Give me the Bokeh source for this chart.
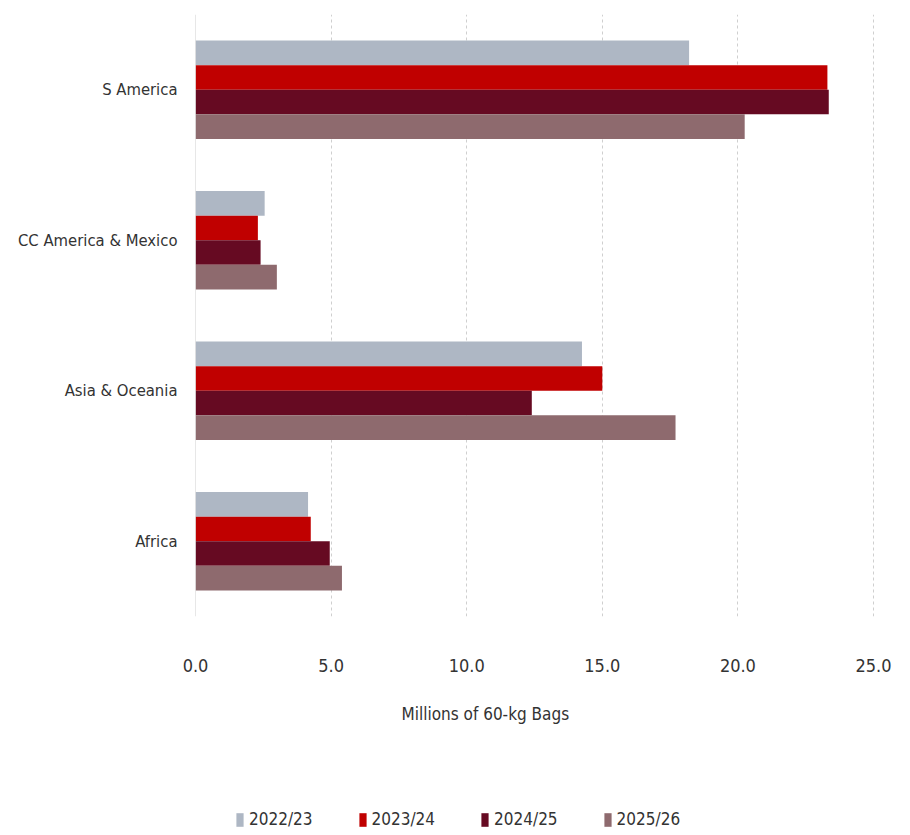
from bokeh.plotting import figure
from bokeh.layouts import column
from bokeh.models import (FactorRange, Range1d, FixedTicker, NumeralTickFormatter,
                          Legend, LegendItem, Title, Span, ColumnDataSource)
from bokeh.transform import dodge
from bokeh.embed import file_html
from bokeh.resources import INLINE

# ---- data ----
regions = ["S America", "CC America & Mexico", "Asia & Oceania", "Africa"]
seasons = ["2022/23", "2023/24", "2024/25", "2025/26"]
v_2022_23 = [18.2, 2.55, 14.25, 4.15]
v_2023_24 = [23.3, 2.3, 15.0, 4.25]
v_2024_25 = [23.35, 2.4, 12.4, 4.95]
v_2025_26 = [20.25, 3.0, 17.7, 5.4]
x_ticks = [0, 5, 10, 15, 20, 25]
x_title = "Millions of 60-kg Bags"

colors = ["#AEB7C4", "#C00000", "#660A22", "#8E6A6E"]
FONT = "DejaVu Sans Condensed, Roboto"
TXT = "#333333"

src = ColumnDataSource(dict(region=regions, s0=v_2022_23, s1=v_2023_24,
                            s2=v_2024_25, s3=v_2025_26))
cols = ["s0", "s1", "s2", "s3"]
offsets = [0.245, 0.082, -0.082, -0.245]

yr = FactorRange(factors=regions[::-1], range_padding=0)
xr = Range1d(0, 26.29)

p = figure(width=910, height=785, output_backend="svg", toolbar_location=None,
           y_range=yr, x_range=xr,
           min_border_left=195, min_border_right=2, min_border_top=14,
           min_border_bottom=169)
p.outline_line_color = None
p.background_fill_color = "white"
p.border_fill_color = "white"

for col, off, c in zip(cols, offsets, colors):
    p.hbar(y=dodge("region", off, range=yr), left=0, right=col,
           height=0.163, source=src, fill_color=c, line_color=None)

# grid
p.ygrid.grid_line_color = None
p.xgrid.ticker = FixedTicker(ticks=x_ticks)
p.xgrid.grid_line_color = "#CFCFCF"
p.xgrid.grid_line_dash = "3 3"
p.xgrid.grid_line_width = 1
p.add_layout(Span(location=0, dimension="height", line_color="#D0D0D0", line_width=1))

# axes
xa = p.xaxis[0]
xa.ticker = FixedTicker(ticks=x_ticks)
xa.formatter = NumeralTickFormatter(format="0.0")
xa.axis_line_color = None
xa.major_tick_line_color = None
xa.minor_tick_line_color = None
xa.major_tick_out = 0
xa.major_label_standoff = 42
xa.major_label_text_font = FONT
xa.major_label_text_font_size = "18px"
xa.major_label_text_color = TXT

ya = p.yaxis[0]
ya.axis_line_color = None
ya.major_tick_line_color = None
ya.minor_tick_line_color = None
ya.major_tick_out = 0
ya.major_label_standoff = 18
ya.major_label_text_font = FONT
ya.major_label_text_font_size = "16.5px"
ya.major_label_text_color = TXT

# axis title
ttl = Title(text=x_title, align="left", offset=206, standoff=55,
            text_font=FONT, text_font_size="17px", text_font_style="normal",
            text_color=TXT)
p.add_layout(ttl, "below")

# legend strip (separate figure under the chart)
pl = figure(width=910, height=50, output_backend="svg", toolbar_location=None,
            y_range=yr, x_range=xr, x_axis_location=None, y_axis_location=None,
            min_border=0, min_border_left=0, min_border_right=0,
            min_border_top=0, min_border_bottom=0)
pl.outline_line_color = None
pl.grid.visible = False
pl.background_fill_color = "white"
pl.border_fill_color = "white"
leg_renderers = []
for col, off, c in zip(cols, offsets, colors):
    r = pl.hbar(y=dodge("region", off, range=yr), left=0, right=col,
                height=0.163, source=src, fill_color=c, line_color=None,
                visible=False)
    leg_renderers.append(r)

items = [LegendItem(label=s, renderers=[r]) for s, r in zip(seasons, leg_renderers)]
leg = Legend(items=items, orientation="horizontal", location=(40, 6),
             padding=0, margin=0, spacing=45, label_standoff=5,
             glyph_width=9, glyph_height=17,
             label_text_font=FONT, label_text_font_size="17px",
             label_text_color=TXT, border_line_color=None,
             background_fill_alpha=0)
pl.add_layout(leg, "center")

layout = column(p, pl, spacing=0)
open("out.html", "w").write(file_html(layout, INLINE))
